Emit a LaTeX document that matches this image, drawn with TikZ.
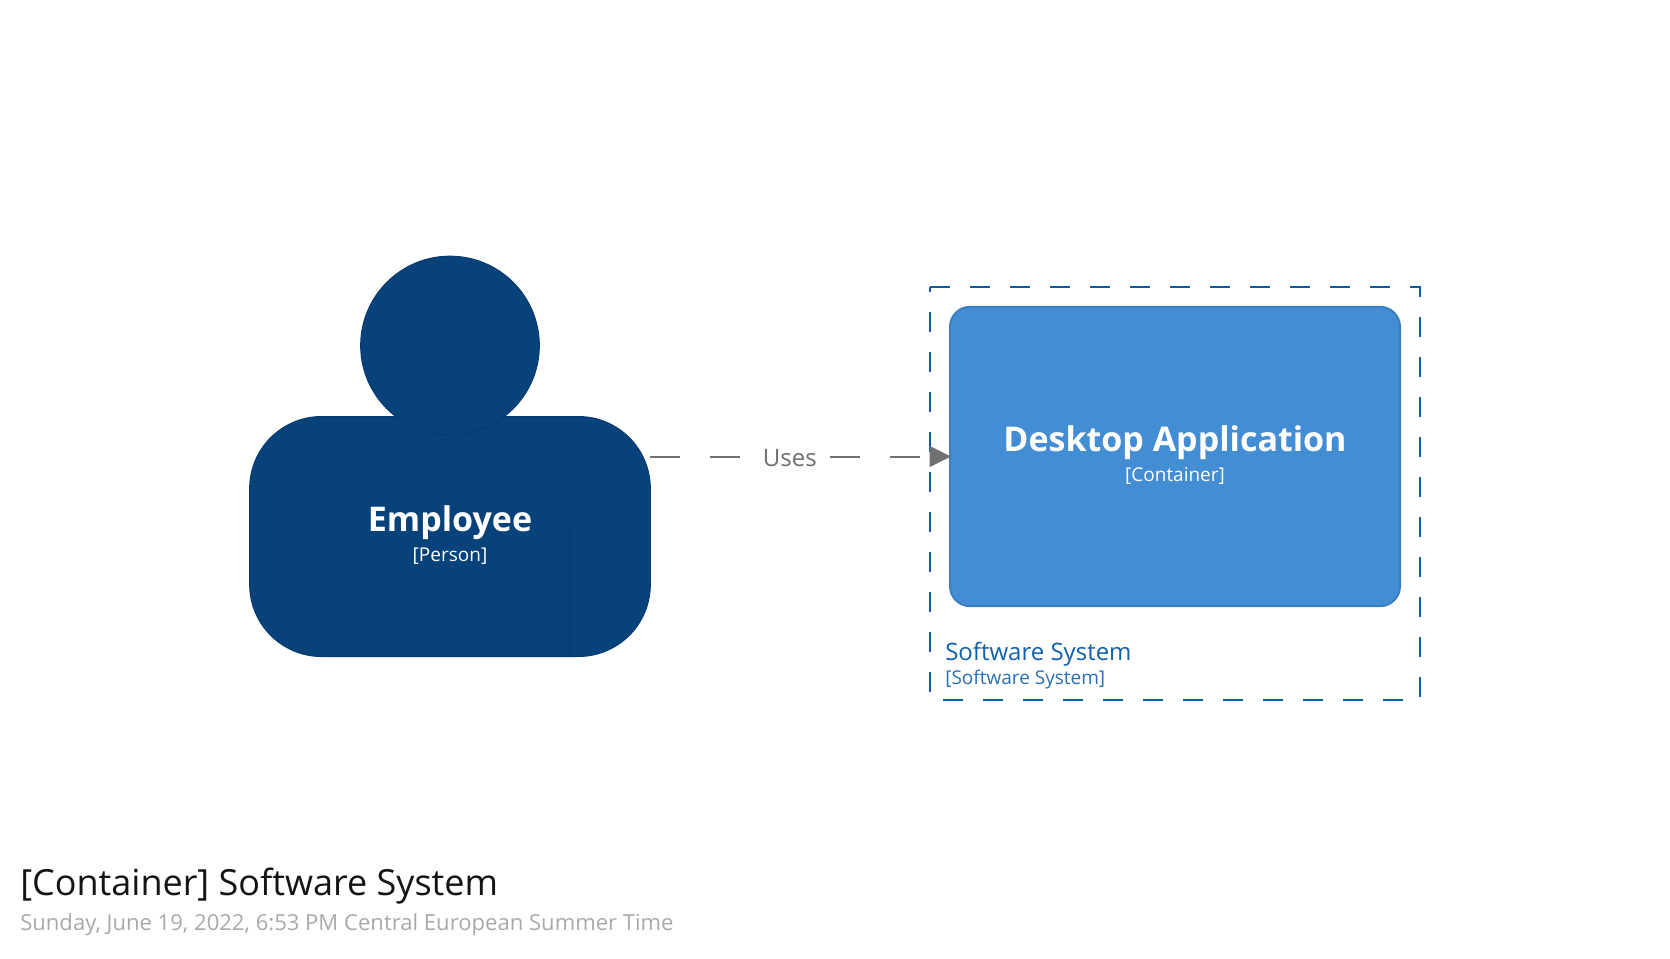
\documentclass[tikz,border=0pt]{standalone}
\usepackage{fontspec}
\setmainfont{Open Sans}
\usetikzlibrary{arrows.meta}
\definecolor{personfill}{HTML}{08427B}
\definecolor{personline}{HTML}{073B6F}
\definecolor{appfill}{HTML}{438DD5}
\definecolor{appline}{HTML}{3C7FC0}
\definecolor{boundary}{HTML}{0B5CA8}
\definecolor{boundtext}{HTML}{1060AE}
\definecolor{relcolor}{HTML}{707070}
\definecolor{datecolor}{HTML}{A9A9A9}
\tikzset{
  x=0.75pt, y=-0.75pt,
  persontext/.style={inner sep=0pt, anchor=base, text=white},
  personshape/.style={fill=personfill, draw=personline, line width=0.75pt, inner sep=0pt, outer sep=0pt},
  apptext/.style={inner sep=0pt, anchor=base, text=white},
  boundarytext/.style={inner sep=0pt, anchor=base west, text=boundtext},
  relation/.style={draw=relcolor, line width=1.5pt, dash pattern=on 22.5pt off 22.5pt,
    -{Triangle[length=16pt,width=15.5pt,fill=relcolor]}}
}
\begin{document}
\begin{tikzpicture}
\useasboundingbox (0,0) rectangle (1670,958);
% boundary
\draw[boundary, line width=1.5pt, dash pattern=on 15pt off 15pt] (930,286.6) -- (1420,286.6) -- (1420,699.5) -- (930,699.5) -- cycle;
\node[boundarytext, font=\fontsize{18}{20}\selectfont] (boundname) at (945,660.7) {Software System};
\node[boundarytext, font=\fontsize{14.25}{16}\selectfont, text opacity=0.9] (boundtype) at (945,684.5) {[Software System]};
% person
\node[personshape, rounded corners=54pt, minimum width=300.5pt, minimum height=180pt] (body) at (450,536.5) {};
\node[personshape, circle, minimum size=134pt] (head) at (450,345.5) {};
\draw[personline, line width=0.75pt] (330,523) -- (330,656.5) (569.7,523) -- (569.7,656.5);
\node[persontext, font=\bfseries\fontsize{25.5}{27}\selectfont] (empname) at (450,531) {Employee};
\node[persontext, font=\fontsize{14.25}{16}\selectfont] (emptype) at (450,561.5) {[Person]};
% container
\node[fill=appfill, draw=appline, line width=1.5pt, rounded corners=15pt, minimum width=337.5pt, minimum height=224.5pt, inner sep=0pt] (app) at (1175,456.5) {};
\node[apptext, font=\bfseries\fontsize{25.5}{27}\selectfont] (appname) at (1175,451) {Desktop Application};
\node[apptext, font=\fontsize{14.25}{16}\selectfont] (apptype) at (1175,481.3) {[Container]};
% relation
\draw[relation, shorten >=-1.5pt] (body.east |- app.west) -- node[pos=0.467, fill=white, inner sep=0pt, text=relcolor, font=\fontsize{18}{20}\selectfont, yshift=-1pt] (uses) {Uses} (app.west);
% title
\node[inner sep=0pt, anchor=base west, text=black!92, font=\fontsize{27}{30}\selectfont] (title) at (20,895) {[Container] Software System};
\node[inner sep=0pt, anchor=base west, text=datecolor, font=\fontsize{16.55}{18}\selectfont] (date) at (20,930) {Sunday, June 19, 2022, 6:53 PM Central European Summer Time};
\end{tikzpicture}
\end{document}
